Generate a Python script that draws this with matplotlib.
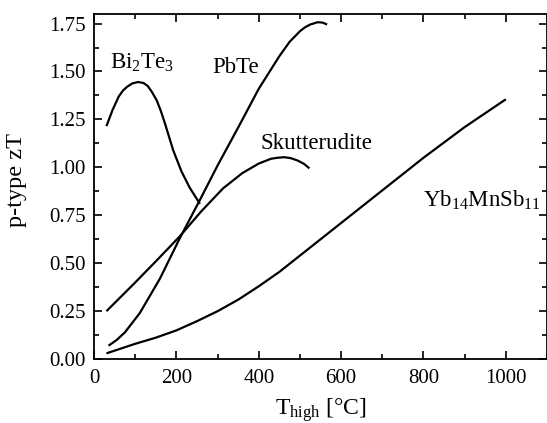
import matplotlib
matplotlib.use("Agg")
import matplotlib.pyplot as plt
from matplotlib.ticker import MultipleLocator

plt.rcParams["font.family"] = ["Liberation Serif", "DejaVu Serif"]
plt.rcParams["mathtext.fontset"] = "custom"
plt.rcParams["mathtext.rm"] = "Liberation Serif"
plt.rcParams["mathtext.it"] = "Liberation Serif:italic"

# ── 数据 ──
bi2te3_t = [30, 45, 60, 70, 80, 93, 107, 120, 130, 140, 152, 162, 172, 182, 192, 212, 232, 257]
bi2te3_zt = [1.215, 1.30, 1.37, 1.40, 1.42, 1.438, 1.445, 1.44, 1.425, 1.395,
             1.35, 1.295, 1.23, 1.16, 1.09, 0.98, 0.895, 0.81]

pbte_t = [35, 55, 75, 111, 160, 208, 257, 300, 353, 400, 450, 475, 500, 512, 525, 543, 555, 566]
pbte_zt = [0.07, 0.10, 0.14, 0.24, 0.42, 0.63, 0.83, 1.01, 1.22, 1.41, 1.58, 1.655,
           1.71, 1.73, 1.745, 1.757, 1.755, 1.745]

skut_t = [30, 100, 150, 208, 260, 313, 360, 400, 430, 445, 462, 478, 495, 510, 523]
skut_zt = [0.25, 0.40, 0.51, 0.64, 0.77, 0.89, 0.97, 1.02, 1.045, 1.05, 1.053, 1.048,
           1.035, 1.018, 0.995]

yb_t = [30, 100, 150, 200, 250, 300, 350, 400, 450, 500, 600, 700, 800, 900, 1000]
yb_zt = [0.03, 0.08, 0.112, 0.15, 0.198, 0.25, 0.31, 0.38, 0.455, 0.54, 0.71, 0.88,
         1.05, 1.21, 1.355]

fig = plt.figure(figsize=(5.47, 4.23), dpi=100)
ax = fig.add_axes([0.172, 0.151, 0.828, 0.816])

for t, zt in [(bi2te3_t, bi2te3_zt), (pbte_t, pbte_zt),
              (skut_t, skut_zt), (yb_t, yb_zt)]:
    ax.plot(t, zt, color="black", linewidth=1.6,
            solid_joinstyle="round", solid_capstyle="butt")

fs_lab = 16.5
ax.text(39, 1.514, r"Bi$_2$Te$_3$", fontsize=fs_lab, va="baseline", ha="left")
ax.text(286, 1.49, "PbTe", fontsize=fs_lab, va="baseline", ha="left")
ax.text(403, 1.097, "Skutterudite", fontsize=fs_lab, va="baseline", ha="left")
ax.text(799, 0.793, r"Yb$_{14}$MnSb$_{11}$", fontsize=fs_lab, va="baseline", ha="left")

ax.set_xlim(0, 1100)
ax.set_ylim(0, 1.8)
ax.xaxis.set_major_locator(MultipleLocator(200))
ax.xaxis.set_minor_locator(MultipleLocator(100))
ax.yaxis.set_major_locator(MultipleLocator(0.25))
ax.yaxis.set_minor_locator(MultipleLocator(0.125))
ax.yaxis.set_major_formatter(plt.FormatStrFormatter("%.2f"))

ax.tick_params(which="both", direction="in", top=True, right=True,
               labelsize=15, width=1.2)
ax.tick_params(which="major", length=5.5)
ax.tick_params(which="minor", length=3.5)
ax.tick_params(axis="x", which="major", pad=7)
ax.tick_params(axis="y", which="major", pad=6)
for s in ax.spines.values():
    s.set_linewidth(1.3)

ax.set_xlabel(r"T$_{\rm high}$ [°C]", fontsize=17)
ax.set_ylabel("p-type zT", fontsize=17.5)
ax.xaxis.set_label_coords(0.5, -0.108)
ax.yaxis.set_label_coords(-0.148, 0.52)

fig.savefig("out.png", dpi=100, facecolor="white")
